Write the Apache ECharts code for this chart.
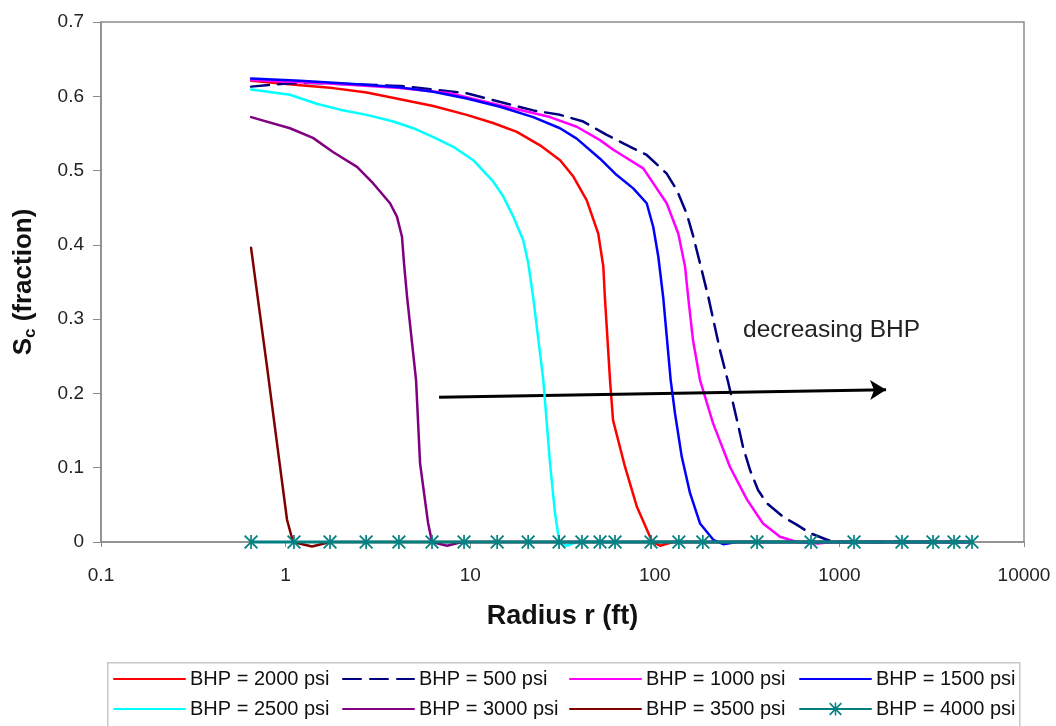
<!DOCTYPE html>
<html><head><meta charset="utf-8">
<script src="https://cdn.jsdelivr.net/npm/echarts@6/dist/echarts.min.js"></script>
<style>html,body{margin:0;padding:0;background:#fff}#c{width:1056px;height:726px}</style>
</head><body><div id="c"></div>
<script>
// ---- data ----
const seriesNames = ['BHP = 2000 psi','BHP = 500 psi','BHP = 1000 psi','BHP = 1500 psi',
                     'BHP = 2500 psi','BHP = 3000 psi','BHP = 3500 psi','BHP = 4000 psi'];
const xTicks = [0.1, 1, 10, 100, 1000, 10000];

const r2000 = [0.65,1.2,1.81,2.75,4.17,6.31,9.57,13.3,17.9,23.9,30.7,36.2,42.8,49.4,52.6,53.7,57.2,59.4,69.0,80.1,94.2,97,106.7,125.5,182,358,702,1200,2183,3214,4176,5227];
const s2000 = [0.621,0.615,0.611,0.605,0.596,0.587,0.575,0.564,0.552,0.534,0.514,0.492,0.460,0.415,0.371,0.328,0.218,0.164,0.101,0.047,0.007,0,-0.005,0,0,0,0,0,0,0,0,0];

const r500 = [0.65,0.972,1.356,4.17,9.57,21.97,30.66,41.0,54.9,76.4,90.4,116,131.5,148.9,161.7,175.8,194.9,225.6,249.2,278.8,300.5,328,362.4,405.3,494.8,589.3,693,856.5,1008,1200,2183,3214,4176,5227];
const s500 = [0.613,0.617,0.618,0.614,0.604,0.581,0.575,0.566,0.548,0.530,0.521,0.496,0.474,0.442,0.411,0.375,0.330,0.258,0.216,0.164,0.128,0.097,0.070,0.052,0.034,0.023,0.012,0.003,0,0,0,0,0,0];

const r1000 = [0.65,1.81,4.17,7.78,14.5,27.06,37.76,50.5,59.6,86.6,116,134.1,145.8,151.9,161,175.8,206.7,255.5,315.9,385.6,476.7,589.3,760,923,1200,2183,3214,4176,5227];
const s1000 = [0.622,0.617,0.611,0.604,0.588,0.572,0.559,0.541,0.528,0.503,0.456,0.415,0.371,0.328,0.272,0.218,0.160,0.101,0.057,0.025,0.007,0,-0.002,0,0,0,0,0,0];

const r1500 = [0.65,1.2,2.23,4.17,6.31,9.57,14.5,21.97,30.66,37.76,50.5,62.2,76.4,90.4,98.1,104.5,111.2,121.9,128.7,139.9,155.1,175.8,207.5,235,277.7,358,702,1200,2183,3214,4176,5227];
const s1500 = [0.624,0.621,0.617,0.612,0.606,0.597,0.586,0.572,0.557,0.543,0.516,0.494,0.476,0.456,0.424,0.384,0.328,0.218,0.173,0.115,0.066,0.025,0.003,-0.003,0,0,0,0,0,0,0,0];

const r2500 = [0.65,1.056,1.474,1.971,2.75,3.83,4.92,6.31,8.10,10.39,13.34,15.11,17.12,19.40,20.64,21.97,24.89,27.06,28.80,30.39,33.33,37.76,50.5,95.4,182,358,702,1200,2183,3214,4176,5227];
const s2500 = [0.609,0.602,0.590,0.582,0.575,0.566,0.557,0.545,0.532,0.514,0.485,0.465,0.438,0.406,0.375,0.328,0.218,0.106,0.039,0,-0.005,0,0,0,0,0,0,0,0,0,0,0];

const r3000 = [0.65,1.056,1.407,1.806,2.437,2.975,3.68,4.01,4.27,4.38,4.55,5.09,5.35,5.91,6.21,7.49,9.03,14.0,30.3,95.4,358,1200,5227];
const s3000 = [0.572,0.557,0.544,0.525,0.505,0.483,0.456,0.438,0.411,0.375,0.330,0.218,0.106,0.026,0,-0.005,0,0,0,0,0,0,0];

const r3500 = [0.65,0.709,0.793,0.898,1.018,1.097,1.39,1.74,4.11,14.0,95.4,1200,5227];
const s3500 = [0.396,0.326,0.236,0.133,0.03,0,-0.006,0,0,0,0,0,0];

const r4000 = [0.65,1.11,1.74,2.73,4.11,6.21,9.26,14.0,20.6,30.3,40.3,50.5,60.9,95.4,135,182,358,702,1200,2183,3214,4176,5227];
const s4000 = [0,0,0,0,0,0,0,0,0,0,0,0,0,0,0,0,0,0,0,0,0,0,0];

// ---- chart ----
const FONT = '"Liberation Sans", Arial, sans-serif';
const zip = (r, s) => r.map((x, i) => [x, s[i]]);
const colors = ['#ff0000','#000080','#ff00ff','#0000ff','#00ffff','#800080','#800000','#008080'];
const rs = [r2000,r500,r1000,r1500,r2500,r3000,r3500,r4000];
const ss = [s2000,s500,s1000,s1500,s2500,s3000,s3500,s4000];
const starPath = 'path://M44 0L56 0L56 100L44 100Z M0 9L9 0L100 91L91 100Z M91 0L100 9L9 100L0 91Z';

const series = seriesNames.map((name, i) => {
  const isStar = i === 7;
  return {
    name, type: 'line', data: zip(rs[i], ss[i]), clip: false,
    showSymbol: isStar, symbol: isStar ? starPath : 'none', symbolSize: 14,
    smooth: false,
    itemStyle: { color: colors[i] },
    lineStyle: { color: colors[i], width: isStar ? 3 : 2.5, type: i === 1 ? [18, 9] : 'solid', join: 'round', cap: 'round' },
    emphasis: { disabled: true }, animation: false, z: 2 + i
  };
});
series.push({
  name: 'arrow', type: 'line', data: [], animation: false,
  markLine: {
    silent: true, animation: false, symbol: ['none', 'arrow'], symbolSize: [15, 16],
    lineStyle: { color: '#000', width: 3, type: 'solid' }, label: { show: false },
    data: [[{ coord: [6.78, 0.195] }, { coord: [1790, 0.205] }]]
  }
});

const legendCols = [113, 342, 569, 799];
const legendItem = i => (i === 7 ? { name: seriesNames[i] } : { name: seriesNames[i], itemStyle: { opacity: 0 } });
const legends = legendCols.map((left, i) => ({
  orient: 'vertical', left, top: 669, padding: 0,
  data: [legendItem(i), legendItem(i + 4)],
  itemWidth: 71, itemHeight: 16, itemGap: 10, selectedMode: false,
  textStyle: { fontSize: 20, lineHeight: 20, color: '#111', fontFamily: FONT }
}));

const chart = echarts.init(document.getElementById('c'), null, { renderer: 'canvas' });
chart.setOption({
  backgroundColor: '#fff',
  animation: false,
  grid: { left: 101, right: 32, top: 22, bottom: 184, show: true, borderColor: '#8c8c8c', borderWidth: 1.5, containLabel: false },
  xAxis: {
    type: 'log', logBase: 10, min: xTicks[0], max: xTicks[xTicks.length - 1],
    name: 'Radius r (ft)', nameLocation: 'middle', nameGap: 61,
    nameTextStyle: { fontSize: 27, fontWeight: 'bold', color: '#111', fontFamily: FONT },
    axisLine: { lineStyle: { color: '#8c8c8c', width: 1.5 } },
    axisTick: { show: true, length: 5, lineStyle: { color: '#8c8c8c' } },
    minorTick: { show: false }, splitLine: { show: false },
    axisLabel: { margin: 24, fontSize: 19, color: '#222', fontFamily: FONT,
      formatter: v => (v < 1 ? String(Math.round(v * 10) / 10) : String(Math.round(v))) }
  },
  yAxis: {
    type: 'value', min: 0, max: 0.7, interval: 0.1,
    name: '{a|S}{b|c}{a| (fraction)}', nameLocation: 'middle', nameGap: 62, nameRotate: 90,
    nameTextStyle: {
      color: '#111', fontFamily: FONT,
      rich: {
        a: { fontSize: 26, fontWeight: 'bold', lineHeight: 30, color: '#111', fontFamily: FONT },
        b: { fontSize: 17, fontWeight: 'bold', lineHeight: 17, verticalAlign: 'bottom', color: '#111', fontFamily: FONT }
      }
    },
    axisLine: { show: true, lineStyle: { color: '#8c8c8c', width: 1.5 } },
    axisTick: { show: true, length: 8, inside: false, lineStyle: { color: '#8c8c8c' } },
    splitLine: { show: false },
    axisLabel: { margin: 17, fontSize: 19, color: '#222', fontFamily: FONT,
      formatter: v => String(Math.round(v * 10) / 10) }
  },
  legend: legends,
  graphic: [
    { type: 'rect', left: 107, top: 662, silent: true, z: -1,
      shape: { width: 912, height: 80 }, style: { fill: '#fff', stroke: '#c8c8c8', lineWidth: 1.5 } },
    { type: 'text', left: 743, top: 318, silent: true,
      style: { text: 'decreasing BHP', fontSize: 24.5, fill: '#222', fontFamily: FONT } }
  ],
  series
});
</script></body></html>
